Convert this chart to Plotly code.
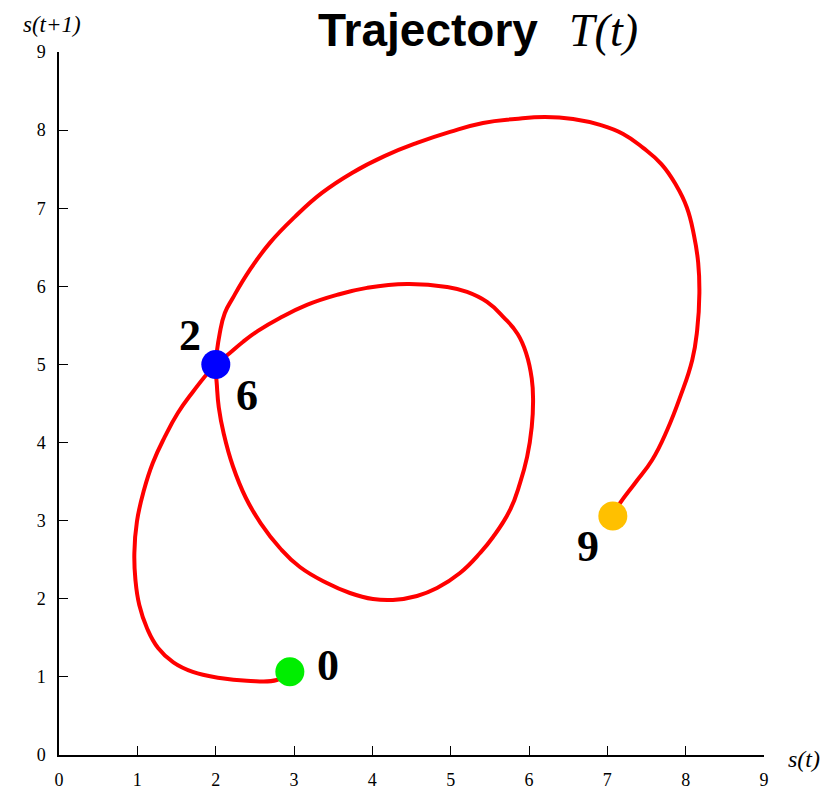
import plotly.graph_objects as go

# Trajectory of s(t) plotted against s(t+1), traced from t = 0 to t = 9
traj_x = [
    2.947, 2.781, 2.398, 2.053, 1.708, 1.460, 1.265, 1.125, 1.025, 0.975,
    0.962, 0.995, 1.085, 1.197, 1.350, 1.517, 1.708, 1.900, 2.002,
    2.181, 2.347, 2.539, 2.820, 3.165, 3.548, 3.931, 4.442, 4.953, 5.209,
    5.464, 5.680, 5.855, 5.965, 6.035, 6.052, 6.035, 5.976, 5.886, 5.758,
    5.541, 5.375, 5.119, 4.826, 4.570, 4.263, 4.008, 3.714, 3.420, 3.075,
    2.820, 2.573, 2.386, 2.219, 2.104, 2.040, 2.015, 2.002,
    2.053, 2.117, 2.219, 2.436, 2.692, 3.011, 3.356, 3.740, 4.161, 4.570,
    4.992, 5.413, 5.822, 6.205, 6.563, 6.908, 7.202, 7.457, 7.690, 7.875,
    8.015, 8.105, 8.160, 8.175, 8.147, 8.084, 7.930, 7.764, 7.572, 7.355,
    7.164, 7.070,
]
traj_y = [
    1.067, 0.960, 0.951, 0.986, 1.063, 1.185, 1.370, 1.620, 1.920, 2.250,
    2.587, 2.990, 3.393, 3.739, 4.072, 4.379, 4.648, 4.891, 5.000,
    5.147, 5.288, 5.429, 5.595, 5.762, 5.890, 5.980, 6.031, 5.992, 5.928,
    5.800, 5.600, 5.390, 5.140, 4.820, 4.545, 4.200, 3.816, 3.483, 3.137,
    2.791, 2.586, 2.330, 2.138, 2.036, 1.985, 1.997, 2.074, 2.202, 2.407,
    2.650, 2.970, 3.290, 3.700, 4.110, 4.450, 4.740, 5.000,
    5.403, 5.659, 5.851, 6.210, 6.556, 6.889, 7.196, 7.452, 7.670, 7.836,
    7.977, 8.092, 8.143, 8.169, 8.143, 8.067, 7.951, 7.772, 7.565, 7.300,
    7.010, 6.660, 6.300, 5.915, 5.442, 5.058, 4.584, 4.161, 3.777, 3.483,
    3.227, 3.060,
]

# Highlighted time steps
key_t = ["0", "2", "6", "9"]
key_x = [2.947, 2.002, 2.002, 7.070]
key_y = [1.067, 5.000, 5.000, 3.060]
key_colors = ["#00EE00", "#0000FF", "#0000FF", "#FFC000"]

axis_ticks = [0, 1, 2, 3, 4, 5, 6, 7, 8, 9]

W, H = 837, 789
ML, MR, MT, MB = 59, 73, 52, 34

fig = go.Figure()

fig.add_trace(go.Scatter(
    x=traj_x, y=traj_y, mode="lines",
    line=dict(color="#FF0000", width=4, shape="spline", smoothing=1.3),
    hoverinfo="skip", showlegend=False,
))

# draw t=9, t=0 and the crossing point on top of the path
for i in [3, 0, 1]:
    fig.add_trace(go.Scatter(
        x=[key_x[i]], y=[key_y[i]], mode="markers",
        marker=dict(size=29, color=key_colors[i], line=dict(width=0)),
        showlegend=False, hoverinfo="skip",
    ))

# offsets (px) of each time-step label from its point
label_shift = {"0": (38, 6), "2": (-26, 29), "6": (31, -31), "9": (-25, -31)}
serif = "Liberation Serif, Times New Roman, serif"

annotations = []
for t, x, y in zip(key_t, key_x, key_y):
    dx, dy = label_shift[t]
    annotations.append(dict(
        x=x, y=y, xref="x", yref="y", text=f"<b>{t}</b>", showarrow=False,
        xshift=dx, yshift=dy, xanchor="center", yanchor="middle",
        font=dict(family=serif, size=44, color="black"),
    ))

def paper_x(px):
    return (px - ML) / (W - ML - MR)

def paper_y(py):
    return (H - MB - py) / (H - MT - MB)

annotations += [
    dict(x=paper_x(428), y=paper_y(30), xref="paper", yref="paper",
         text="<b>Trajectory</b>", showarrow=False, xanchor="center", yanchor="middle",
         font=dict(family="Liberation Sans, Arial, sans-serif", size=46, color="black")),
    dict(x=paper_x(603), y=paper_y(31), xref="paper", yref="paper",
         text="<i>T(t)</i>", showarrow=False, xanchor="center", yanchor="middle",
         font=dict(family=serif, size=46, color="black")),
    dict(x=paper_x(52), y=paper_y(24), xref="paper", yref="paper",
         text="<i>s(t+1)</i>", showarrow=False, xanchor="center", yanchor="middle",
         font=dict(family=serif, size=23, color="black")),
    dict(x=paper_x(804), y=paper_y(759), xref="paper", yref="paper",
         text="<i>s(t)</i>", showarrow=False, xanchor="center", yanchor="middle",
         font=dict(family=serif, size=24, color="black")),
]

axis_style = dict(
    range=[0, 9], tickvals=axis_ticks, ticktext=[str(v) for v in axis_ticks],
    showgrid=False, zeroline=False, showline=True, linecolor="black", linewidth=1.5,
    ticks="inside", ticklen=9, tickwidth=1.2, tickcolor="black",
    tickfont=dict(family=serif, size=18, color="black"),
    fixedrange=True, automargin=False,
)

fig.update_layout(
    width=W, height=H,
    margin=dict(l=ML, r=MR, t=MT, b=MB, pad=0, autoexpand=False),
    paper_bgcolor="white", plot_bgcolor="white",
    xaxis=dict(**axis_style, ticklabelstandoff=8),
    yaxis=dict(**axis_style, ticklabelstandoff=8),
    annotations=annotations,
)

fig.write_html("out.html")
